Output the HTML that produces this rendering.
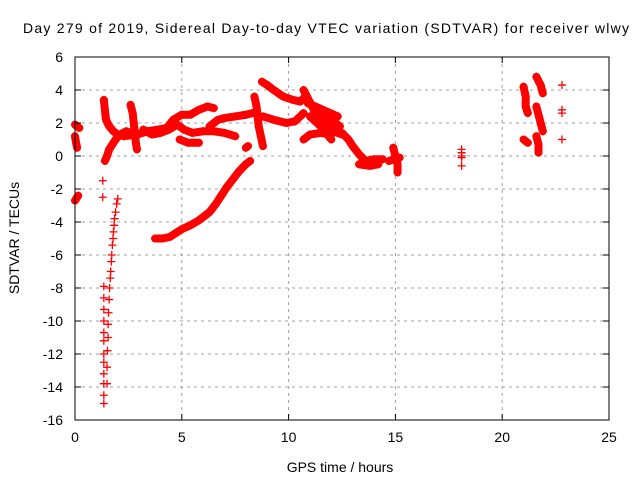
<!DOCTYPE html>
<html><head><meta charset="utf-8"><style>
body{margin:0;background:#fff}
svg{font-family:"Liberation Sans",sans-serif;display:block}
</style></head><body>
<svg id="chart" width="640" height="480">
<rect width="640" height="480" fill="#fff"/>
<text x="326" y="33" font-size="14" text-anchor="middle" textLength="606">Day 279 of 2019, Sidereal Day-to-day VTEC variation (SDTVAR) for receiver wlwy</text>
<g id="grid"></g>
<g id="marks"></g>
<rect x="75" y="57" width="534" height="363" fill="none" stroke="#000" stroke-width="1"/>
<g id="ticks"></g>
<text x="340" y="472" font-size="14" text-anchor="middle">GPS time / hours</text>
<text transform="translate(19,238) rotate(-90)" font-size="14" text-anchor="middle">SDTVAR / TECUs</text>
</svg>
<script>
const xTicks=[0,5,10,15,20,25];
const yTicks=[6,4,2,0,-2,-4,-6,-8,-10,-12,-14,-16];
const tracks=[
[[0,1.9],[0.1,1.8],[0.2,1.7]],
[[0,1.2],[0.05,0.8],[0.1,0.5]],
[[0,-2.7],[0.15,-2.4]],
[[1.35,3.4],[1.4,2.8],[1.45,2.2],[1.6,1.8],[1.8,1.5],[2.0,1.3],[2.3,1.2]],
[[1.4,-0.3],[1.5,0],[1.6,0.4],[1.75,0.7],[1.9,1.0],[2.1,1.3],[2.4,1.5],[2.6,1.4]],
[[2.6,3.1],[2.7,2.6],[2.75,2.0],[2.8,1.4],[2.85,0.8],[2.9,0.4]],
[[2.3,1.2],[2.9,1.3],[3.4,1.5],[3.9,1.6],[4.3,1.7],[4.6,2.2],[5.0,2.5],[5.4,2.5],[5.8,2.8],[6.2,3.0],[6.5,2.9]],
[[3.2,1.6],[3.6,1.3],[4.0,1.4],[4.4,1.6],[4.8,1.9],[5.1,1.6],[5.5,1.4],[6.0,1.5],[6.5,1.5],[7.0,1.4],[7.5,1.2]],
[[4.9,1.0],[5.3,0.8],[5.8,0.8]],
[[6.3,1.8],[6.7,2.2],[7.0,2.3],[7.5,2.4],[8.0,2.5],[8.3,2.6]],
[[8.4,3.6],[8.5,3.0],[8.55,2.4],[8.6,1.8],[8.7,1.2],[8.8,0.6]],
[[3.75,-5.0],[4.1,-5.0],[4.45,-4.9],[4.8,-4.6],[5.05,-4.4],[5.4,-4.2],[5.8,-3.9],[6.3,-3.4],[6.6,-2.9],[6.9,-2.3],[7.1,-1.9],[7.4,-1.4],[7.7,-0.9],[8.0,-0.5],[8.2,-0.3]],
[[8.0,0.5],[8.1,0.6]],
[[8.75,4.5],[9.0,4.3],[9.3,4.0],[9.75,3.6],[10.2,3.4],[10.55,3.3],[10.7,3.5]],
[[8.8,2.4],[9.3,2.2],[9.9,2.0],[10.3,2.1],[10.7,2.6]],
[[10.7,4.0],[10.9,3.5],[11.1,3.0],[11.3,2.5],[11.5,2.2],[11.8,2.0],[12.0,1.6],[12.3,1.4],[12.5,1.3]],
[[10.7,1.0],[11.0,1.3],[11.5,1.4],[12.0,1.3]],
[[11.2,2.8],[11.8,2.3],[12.2,2.0],[12.4,1.8]],
[[11.0,2.4],[11.5,1.8],[12.0,1.0]],
[[10.9,3.2],[11.6,2.8],[12.3,2.4]],
[[12.5,1.4],[12.8,1.0],[13.0,0.6],[13.3,0.1],[13.6,-0.3],[14.0,-0.2],[14.4,-0.2]],
[[13.3,-0.5],[13.8,-0.6],[14.2,-0.5]],
[[14.9,0.5],[15.0,0],[15.1,-0.5],[15.1,-1.0]],
[[14.7,-0.3],[15.2,-0.1]],
[[21.0,4.2],[21.1,3.6],[21.1,3.0],[21.2,2.6]],
[[21.0,1.0],[21.2,0.8]],
[[21.6,4.8],[21.8,4.3],[21.9,3.8]],
[[21.6,3.0],[21.7,2.5],[21.8,2.0],[21.9,1.5]],
[[21.6,1.2],[21.7,0.7],[21.7,0.2]]
];
const sparseX=[1.3,1.3,1.35,1.35,1.35,1.35,1.35,1.35,1.35,1.35,1.35,1.35,1.35,1.35,
1.5,1.5,1.52,1.55,1.55,1.57,1.6,1.62,1.65,1.67,1.7,1.72,1.75,1.78,1.8,1.83,1.85,1.9,1.95,2.0,
18.1,18.1,18.1,18.1,18.1,22.8,22.8,22.8,22.8];
const sparseY=[-1.5,-2.5,-7.9,-8.6,-9.3,-10,-10.7,-11.2,-12,-12.5,-13.2,-13.8,-14.5,-15,
-13.8,-12.8,-11.8,-11,-10.2,-9.5,-8.7,-8,-7.4,-7,-6.4,-6,-5.4,-5,-4.6,-4.2,-3.8,-3.4,-2.9,-2.6,
0.4,0.2,0,-0.1,-0.6,4.3,2.8,2.6,1.0];

const NS='http://www.w3.org/2000/svg';
const X0=75,X1=609,Y0=57,Y1=420;
function xs(h){return X0+(h-0)/25*(X1-X0);}
function ys(v){return Y0+(6-v)/22*(Y1-Y0);}
function mk(t,a){const e=document.createElementNS(NS,t);for(const k in a)e.setAttribute(k,a[k]);return e;}
const grid=document.getElementById('grid'),ticks=document.getElementById('ticks'),marks=document.getElementById('marks');
xTicks.forEach(t=>{
  const x=xs(t);
  if(t>0&&t<25){const g=mk('line',{x1:x,x2:x,y1:Y0,y2:Y1,stroke:'#a0a0a0','stroke-dasharray':'3,4'});
  
  grid.appendChild(g);}
  ticks.appendChild(mk('line',{x1:x,x2:x,y1:Y1,y2:Y1-6,stroke:'#000'}));
  ticks.appendChild(mk('line',{x1:x,x2:x,y1:Y0,y2:Y0+6,stroke:'#000'}));
  const l=mk('text',{x:x,y:Y1+22,'font-size':14,'text-anchor':'middle'});l.textContent=t;
  
  ticks.appendChild(l);
});
yTicks.forEach(t=>{
  const y=ys(t);
  if(t<6&&t>-16){const g=mk('line',{x1:X0,x2:X1,y1:y,y2:y,stroke:'#a0a0a0','stroke-dasharray':'3,4'});
  
  grid.appendChild(g);}
  ticks.appendChild(mk('line',{x1:X0,x2:X0+6,y1:y,y2:y,stroke:'#000'}));
  ticks.appendChild(mk('line',{x1:X1,x2:X1-6,y1:y,y2:y,stroke:'#000'}));
  const l=mk('text',{x:X0-12,y:y+5,'font-size':14,'text-anchor':'end'});l.textContent=t;
  
  ticks.appendChild(l);
});
function plus(h,v){
  const x=xs(h),y=ys(v);
  const p=mk('path',{d:`M${x-4},${y}H${x+4}M${x},${y-4}V${y+4}`,stroke:'#f00','stroke-width':1.3});
  
  
  marks.appendChild(p);
}
tracks.forEach(tr=>{
  const pl=mk('polyline',{points:tr.map(p=>xs(p[0])+','+ys(p[1])).join(' '),fill:'none',stroke:'#f00','stroke-width':8,'stroke-linejoin':'round','stroke-linecap':'round'});
  
  
  marks.appendChild(pl);
  tr.forEach(p=>plus(p[0],p[1]));
});
sparseX.forEach((h,i)=>plus(h,sparseY[i]));
</script>
</body></html>
